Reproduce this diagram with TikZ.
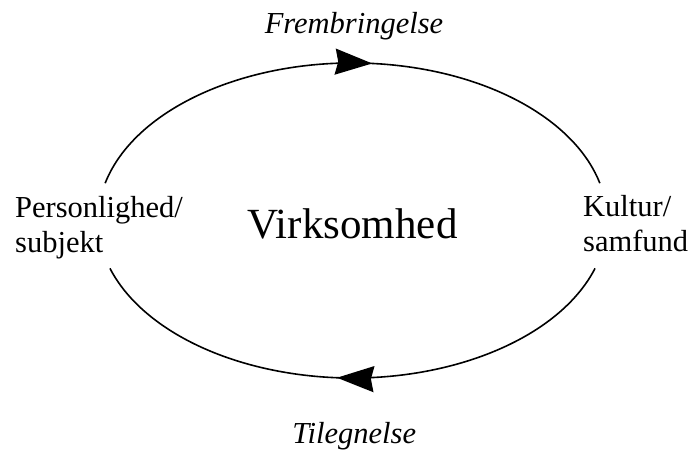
\documentclass[tikz,border=0pt]{standalone}
\usepackage{fontspec}
\setmainfont{Liberation Serif}
\usetikzlibrary{arrows.meta, decorations.markings, positioning}

\begin{document}
\begin{tikzpicture}[
        x=1pt, y=1pt,
        Side/.style={font=\fontsize{30.5}{35}\selectfont, align=left, inner sep=0pt},
        Phase/.style={font=\fontsize{30.5}{35}\selectfont\itshape, inner sep=0pt, anchor=base},
        Center/.style={font=\fontsize{43}{50}\selectfont, inner sep=0pt, anchor=base},
        Cycle/.style={line width=1.6pt, postaction={decorate}},
        bigtip/.tip={Stealth[length=37pt, width=26pt, inset=3pt]}
    ]
    \useasboundingbox (0,0) rectangle (689,452);

    % Centre of the cycle
    \coordinate (C) at (352.5,231.5);
    \node (Virk) [Center] at (352.5,213.7) {Virksomhed};

    % The two poles (base = last line)
    \node (Pers) [Side, anchor=base west] at (15,199) {Personlighed/\\subjekt};
    \node (Kult) [Side, anchor=base west] at (583,200.3) {Kultur/\\samfund};

    % The two phases
    \node (Frem) [Phase] at (354,418.7) {Frembringelse};
    \node (Tileg) [Phase] at (354.2,8.7) {Tilegnelse};

    % Upper arc, Personlighed -> Kultur
    \draw[Cycle, decoration={markings, mark=at position 0.534 with {\arrow{bigtip}}}]
        (C) ++(166.3:254.6pt and 157.5pt)
        arc[start angle=166.3, end angle=13.7, x radius=254.6pt, y radius=157.5pt];

    % Lower arc, Kultur -> Personlighed
    \draw[Cycle, decoration={markings, mark=at position 0.528 with {\arrow{bigtip}}}]
        (C) ++(-17.7:254.6pt and 157.5pt)
        arc[start angle=-17.7, end angle=-162.3, x radius=254.6pt, y radius=157.5pt];

\end{tikzpicture}
\end{document}
